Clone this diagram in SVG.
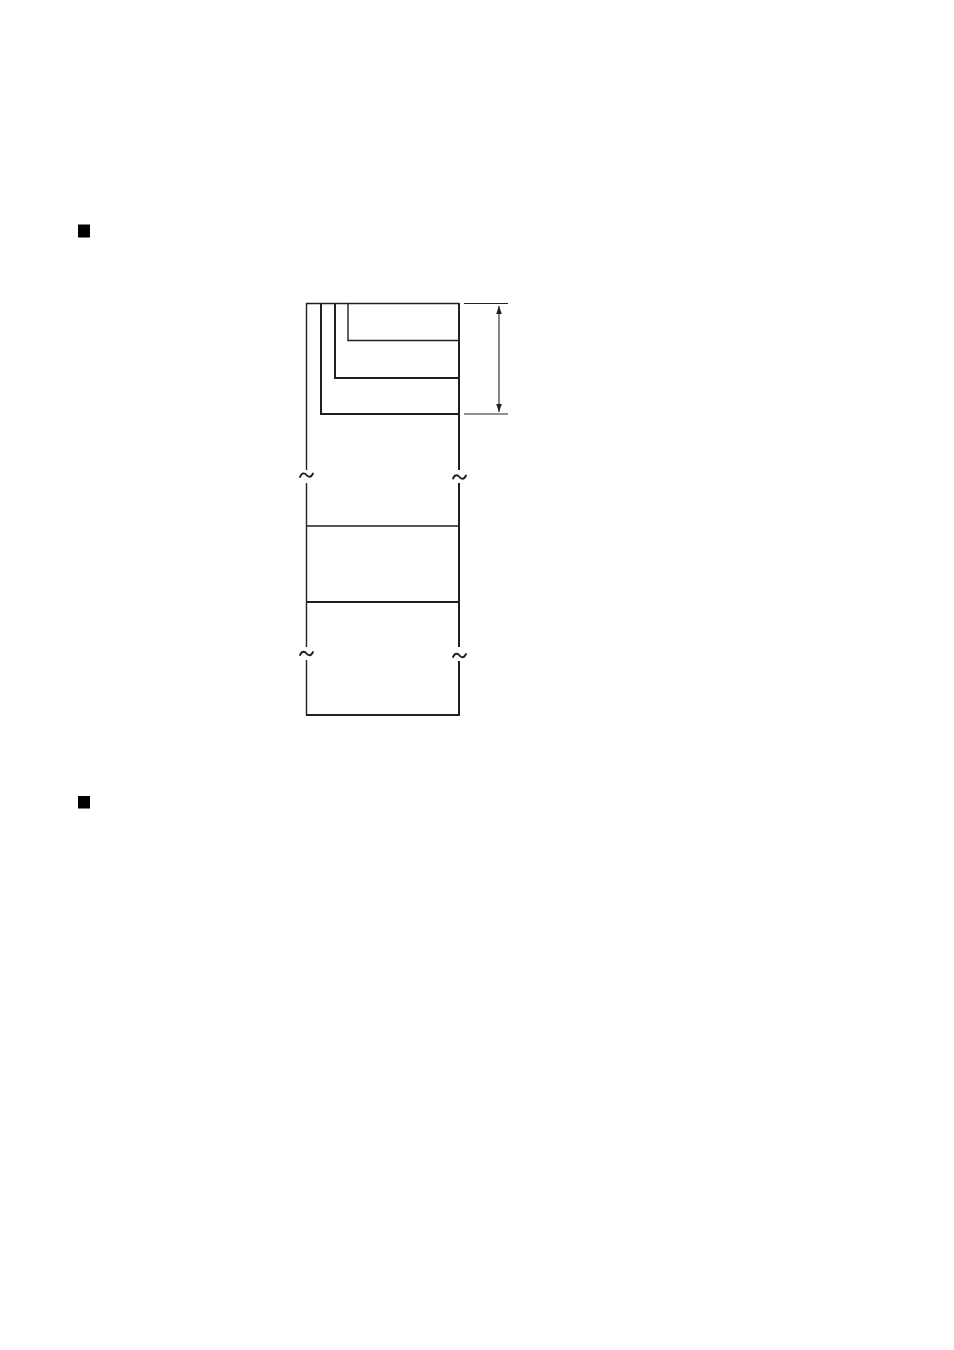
<svg xmlns="http://www.w3.org/2000/svg" width="954" height="1350" viewBox="0 0 954 1350">
<defs>
<style>
.thin{stroke:#231f20;stroke-width:1.4;fill:none}
.thick{stroke:#231f20;stroke-width:2;fill:none}
.dim{stroke:#231f20;stroke-width:1.1;fill:none}
.tilde{stroke:#231f20;stroke-width:1.9;fill:none;stroke-linecap:round}
</style>
<marker id="ah" viewBox="0 0 10 10" refX="10" refY="5" markerWidth="8" markerHeight="8" orient="auto-start-reverse" markerUnits="userSpaceOnUse">
<path d="M0,1.5 L10,5 L0,8.5 Z" fill="#231f20"/>
</marker>
</defs>
<rect width="954" height="1350" fill="#fff"/>
<g id="bullet1"><rect x="78" y="224.5" width="12" height="13" fill="#000"/></g>
<g id="bullet2"><rect x="78" y="796" width="12" height="12.5" fill="#000"/></g>
<g id="frame">
<path class="thin" d="M306.5,303 V470 M306.5,483 V647 M306.5,660 V715"/>
<path class="thick" d="M459,303 V470 M459,483 V647 M459,661 V715"/>
<path class="thin" d="M306,303.5 H459"/>
<path class="thick" d="M306,715 H460"/>
<path class="thin" d="M306,526 H459"/>
<path class="thick" d="M306,602 H459"/>
</g>
<g id="nested">
<path class="thin" d="M348,303 V340.5 H459"/>
<path class="thick" d="M335,303 V378 H459"/>
<path class="thick" d="M321,303 V414 H459"/>
</g>
<g id="breaks">
<path class="tilde" d="M300,477 C302,472 305,473 306.5,475 C308,477 311,478 313,473.5"/>
<path class="tilde" d="M453,478.5 C455,474 458,475 459.5,477 C461,479 464,480 466,475.5"/>
<path class="tilde" d="M300,655 C302,650.5 305,651.5 306.5,653.5 C308,655.5 311,656.5 313,652"/>
<path class="tilde" d="M453,657 C455,652.5 458,653.5 459.5,655.5 C461,657.5 464,658.5 466,654"/>
</g>
<g id="connectors">
<path class="dim" d="M464,303.5 H508 M464,414 H508"/>
<line class="dim" x1="499" y1="306" x2="499" y2="412" marker-start="url(#ah)" marker-end="url(#ah)"/>
</g>
</svg>
